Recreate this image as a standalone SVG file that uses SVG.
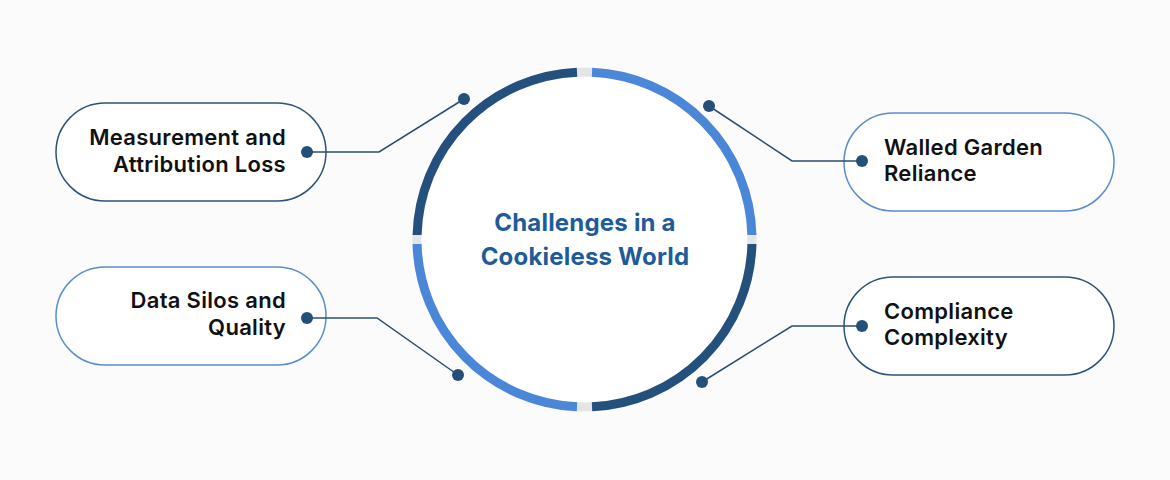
<svg xmlns="http://www.w3.org/2000/svg" width="1170" height="480" viewBox="0 0 1170 480">
<style>
.bg{fill:#fbfbfc}
.pill{fill:#ffffff;stroke-width:1.5}
.dk{stroke:#2d5478}
.lt{stroke:#5b8dcc}
.lbl{font-family:Inter,"Noto Sans","Liberation Sans",sans-serif;font-weight:600;font-size:22px;letter-spacing:0.3px;fill:#111111}
.title{font-family:Inter,"Noto Sans","Liberation Sans",sans-serif;font-weight:700;font-size:24px;letter-spacing:0.2px;fill:#1e5b9a}
.conn{fill:none;stroke:#2b4d6e;stroke-width:1.5}
.dot{fill:#244f78}
.arc{fill:none;stroke-width:9}
</style>
<rect class="bg" x="0" y="0" width="1170" height="480"/>
<g id="center">
<circle cx="584.5" cy="239.5" r="163" fill="#ffffff"/>
<circle cx="584.5" cy="239.5" r="167.5" fill="none" stroke="#e4e5e7" stroke-width="9"/>
<path class="arc" stroke="#4a87d8" d="M592.01,72.17 A167.5,167.5 0 0 1 751.94,235"/>
<path class="arc" stroke="#23507d" d="M751.94,244 A167.5,167.5 0 0 1 592.01,406.83"/>
<path class="arc" stroke="#4a87d8" d="M576.99,406.83 A167.5,167.5 0 0 1 417.06,244"/>
<path class="arc" stroke="#23507d" d="M417.06,235 A167.5,167.5 0 0 1 576.99,72.17"/>
<text class="title" x="585" y="231" text-anchor="middle">Challenges in a</text>
<text class="title" x="585" y="265" text-anchor="middle">Cookieless World</text>
</g>
<g id="n1">
<rect class="pill dk" x="56" y="103" width="270" height="98" rx="49"/>
<text class="lbl" x="286" y="145" text-anchor="end">Measurement and</text>
<text class="lbl" x="286" y="172" text-anchor="end">Attribution Loss</text>
</g>
<g id="n2">
<rect class="pill lt" x="844" y="113" width="270" height="98" rx="49"/>
<text class="lbl" x="884" y="155">Walled Garden</text>
<text class="lbl" x="884" y="181">Reliance</text>
</g>
<g id="n3">
<rect class="pill lt" x="56" y="267" width="270" height="98" rx="49"/>
<text class="lbl" x="286" y="308" text-anchor="end">Data Silos and</text>
<text class="lbl" x="286" y="335" text-anchor="end">Quality</text>
</g>
<g id="n4">
<rect class="pill dk" x="844" y="277" width="270" height="98" rx="49"/>
<text class="lbl" x="884" y="319">Compliance</text>
<text class="lbl" x="884" y="345">Complexity</text>
</g>
<g id="connectors">
<polyline class="conn" points="307,152 379,152 464,99"/>
<circle class="dot" cx="307" cy="152" r="6"/>
<circle class="dot" cx="464" cy="99" r="6"/>
<polyline class="conn" points="862,161 792,161 709,106"/>
<circle class="dot" cx="862" cy="161" r="6"/>
<circle class="dot" cx="709" cy="106" r="6"/>
<polyline class="conn" points="307,318 377,318 458,375"/>
<circle class="dot" cx="307" cy="318" r="6"/>
<circle class="dot" cx="458" cy="375" r="6"/>
<polyline class="conn" points="862,326 792,326 702,382"/>
<circle class="dot" cx="862" cy="326" r="6"/>
<circle class="dot" cx="702" cy="382" r="6"/>
</g>
</svg>
